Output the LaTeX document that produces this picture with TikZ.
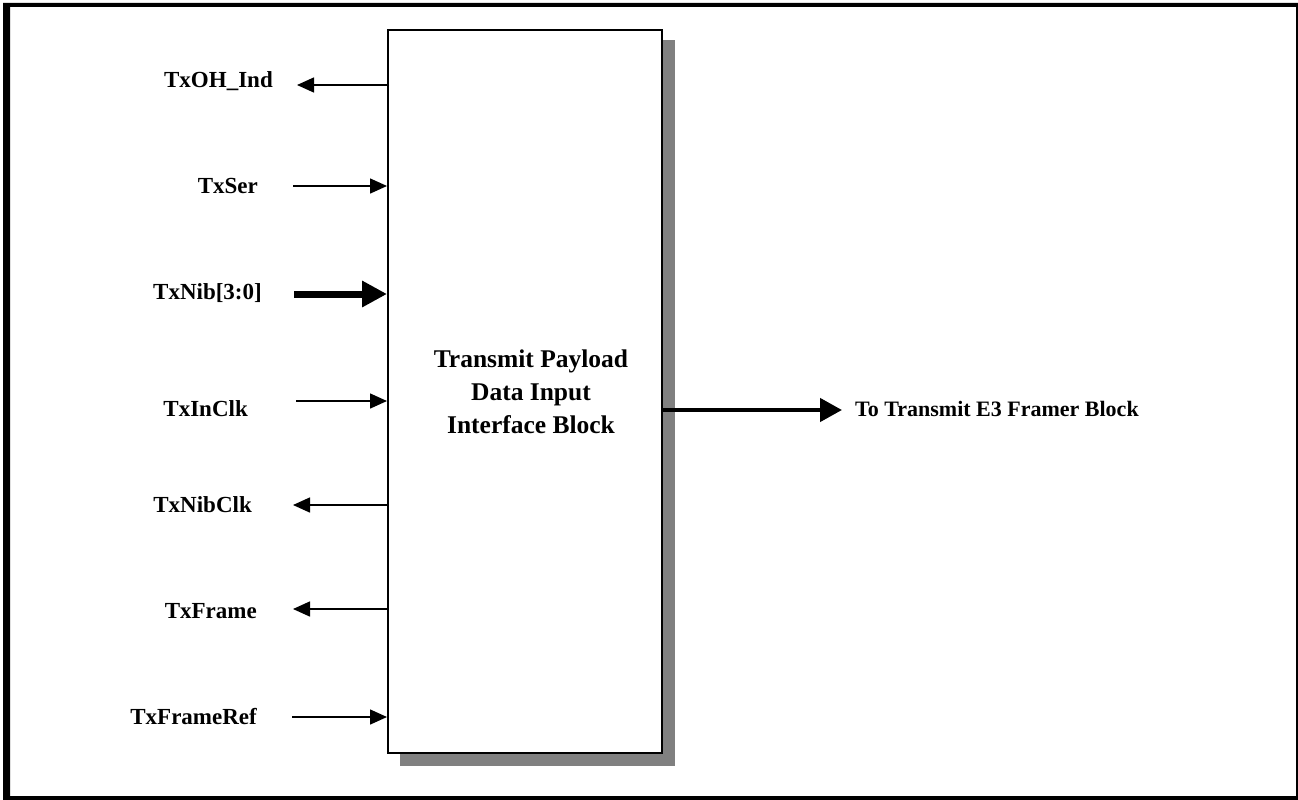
\documentclass[tikz,border=0pt]{standalone}
\usepackage{fontspec}
\setmainfont{Liberation Serif}
\usetikzlibrary{arrows.meta}
\begin{document}
\begin{tikzpicture}[x=1pt,y=-1pt,
  lab/.style={font=\bfseries\fontsize{23}{27}\selectfont, inner sep=0pt, anchor=base east},
  rlab/.style={font=\bfseries\fontsize{22}{26}\selectfont, inner sep=0pt, anchor=base west},
  btext/.style={font=\bfseries\fontsize{25.5}{33}\selectfont, inner sep=0pt, align=center},
  sig/.style={line width=1.5pt, -{Triangle[length=17pt,width=15pt]}},
  bus/.style={line width=7pt, -{Triangle[length=25pt,width=25pt]}},
  outbus/.style={line width=4.5pt, -{Triangle[length=22pt,width=23pt]}},
  blockbox/.style={draw=black, fill=white, line width=2pt, minimum width=274pt, minimum height=723pt, inner sep=0pt},
  shadowbox/.style={fill=black!50, draw=none, minimum width=275pt, minimum height=726pt, inner sep=0pt}]
\useasboundingbox (0,0) rectangle (1298,800);
% outer frame
\fill[black, even odd rule] (3,3) rectangle (1298,800) (10,7) rectangle (1296,796);
% block with shadow
\node[shadowbox] (shadow) at (537.5,403) {};
\node[blockbox] (blk) at (525,391.5) {};
\node[btext] (btxt) at (531,392) {Transmit Payload\\Data Input\\Interface Block};
% labels
\node[lab] (lOH)  at (273,87)  {TxOH\_Ind};
\node[lab] (lSer) at (258,193) {TxSer};
\node[lab] (lNib) at (262,299) {TxNib[3:0]};
\node[lab] (lIn)  at (248,416) {TxInClk};
\node[lab] (lNC)  at (252,512) {TxNibClk};
\node[lab] (lFr)  at (257,618) {TxFrame};
\node[lab] (lFR)  at (257,724) {TxFrameRef};
\node[rlab] (lOut) at (855,416) {To Transmit E3 Framer Block};
% free ends
\coordinate (eOH) at (297,85);
\coordinate (eSer) at (293,186);
\coordinate (eNib) at (294,294);
\coordinate (eIn) at (296,401);
\coordinate (eNC) at (293,505);
\coordinate (eFr) at (293,609);
\coordinate (eFR) at (292,717);
\coordinate (eOut) at (842,410);
% connectors
\draw[sig] (blk.west |- eOH) ++(2,0) -- (eOH);
\draw[sig] (eSer) -- (blk.west |- eSer);
\draw[bus] (eNib) -- (blk.west |- eNib);
\draw[sig] (eIn) -- (blk.west |- eIn);
\draw[sig] (blk.west |- eNC) -- (eNC);
\draw[sig] (blk.west |- eFr) -- (eFr);
\draw[sig] (eFR) -- (blk.west |- eFR);
\draw[outbus] (blk.east |- eOut) -- (eOut);
\end{tikzpicture}
\end{document}
